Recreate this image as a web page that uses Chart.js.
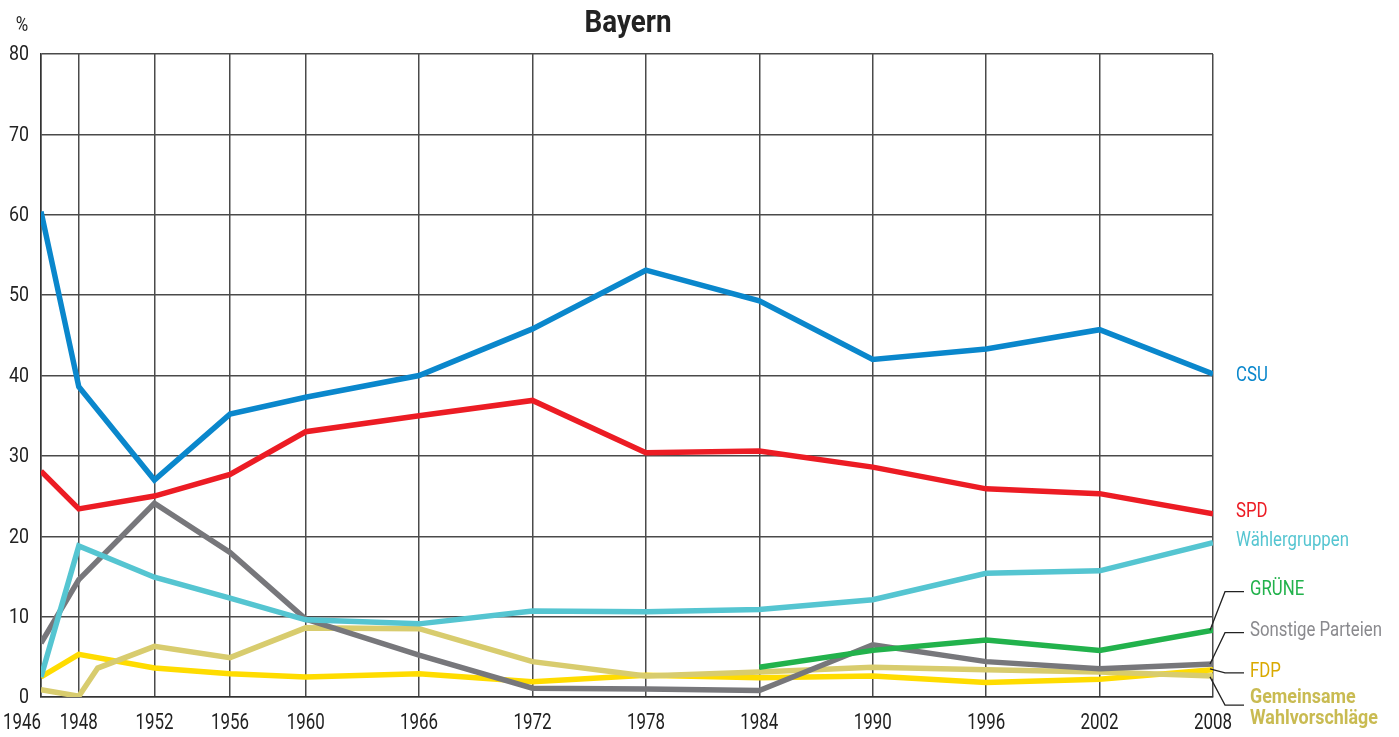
<!DOCTYPE html>
<html>
<head>
<meta charset="utf-8">
<script src="https://cdn.jsdelivr.net/npm/chart.js@4.4.1/dist/chart.umd.min.js"></script>
<style>
html,body{margin:0;padding:0;background:#fff;overflow:hidden}
canvas{display:block}
</style>
</head>
<body>
<canvas id="c" width="1399" height="737"></canvas>
<script>
// ---- data ----
const chartTitle = "Bayern";
const unitLabel = "%";
const years = [1946, 1948, 1952, 1956, 1960, 1966, 1972, 1978, 1984, 1990, 1996, 2002, 2008];
const yTicks = [0, 10, 20, 30, 40, 50, 60, 70, 80];
const csu = [60.4, 38.6, 27.0, 35.2, 37.3, 40.0, 45.8, 53.1, 49.3, 42.0, 43.3, 45.7, 40.2];
const spd = [28.1, 23.4, 25.0, 27.7, 33.0, 35.0, 36.9, 30.4, 30.6, 28.6, 25.9, 25.3, 22.8];
const waehlergruppen = [2.5, 18.8, 14.9, 12.3, 9.6, 9.1, 10.7, 10.6, 10.9, 12.1, 15.4, 15.7, 19.2];
const gruene = [null, null, null, null, null, null, null, null, 3.7, 5.8, 7.1, 5.8, 8.3];
const sonstige = [6.7, 14.6, 24.1, 18.0, 9.7, 5.2, 1.1, 1.0, 0.8, 6.5, 4.4, 3.5, 4.1];
const fdp = [2.5, 5.3, 3.6, 2.9, 2.5, 2.9, 1.9, 2.7, 2.4, 2.6, 1.8, 2.2, 3.4];
const gwvYears = [1946, 1948, 1949, 1952, 1956, 1960, 1966, 1972, 1978, 1984, 1990, 1996, 2002, 2008];
const gwv = [0.9, 0.1, 3.6, 6.3, 4.9, 8.6, 8.5, 4.4, 2.6, 3.1, 3.7, 3.4, 3.1, 2.6];

const seriesNames = ["CSU", "SPD", "Wählergruppen", "GRÜNE", "Sonstige Parteien", "FDP", "Gemeinsame Wahlvorschläge"];

const COLORS = {
  csu: '#0a87cc', spd: '#ec1c24', wg: '#55c5d1', gr: '#22b24c',
  so: '#77777b', fdp: '#ffdc00', gwv: '#d8cc6e'
};
const FONT = "Roboto, 'Liberation Sans', sans-serif";

const pts = (xs, ys) => xs.map((x, i) => ({x: x, y: ys[i]})).filter(p => p.y !== null);

function ds(label, data, color) {
  return {
    label: label, data: data, borderColor: color, backgroundColor: color,
    borderWidth: 5.5, pointRadius: 0, pointHoverRadius: 0, tension: 0,
    borderCapStyle: 'butt', borderJoinStyle: 'miter', fill: false, spanGaps: false
  };
}

// end labels (label positions in data units)
const endLabels = [
  {text: ["CSU"], color: COLORS.csu, at: 40.0, dx: 23},
  {text: ["SPD"], color: COLORS.spd, at: 23.0, dx: 23},
  {text: ["Wählergruppen"], color: COLORS.wg, at: 19.4, dx: 23},
  {text: ["GRÜNE"], color: COLORS.gr, at: 13.3, dx: 37, leader: 13.1, from: 8.3},
  {text: ["Sonstige Parteien"], color: '#8a8a8e', at: 8.2, dx: 37, leader: 8.0, from: 4.1},
  {text: ["FDP"], color: '#d9a900', at: 3.2, dx: 37, leader: 3.0, from: 3.5},
  {text: ["Gemeinsame", "Wahlvorschläge"], color: '#c9bb52', bold: true, at: -0.1, lineGap: 2.65, dx: 37, leader: -1.0, from: 2.5}
];

function fitScale(ctx, font, sample, target) {
  ctx.font = font;
  return target / ctx.measureText(sample).width;
}
function drawText(ctx, text, x, y, font, sx, align) {
  ctx.save();
  ctx.font = font;
  ctx.textAlign = align || 'left';
  ctx.textBaseline = 'middle';
  ctx.translate(x, y);
  ctx.scale(sx, 1);
  ctx.fillText(text, 0, 0);
  ctx.restore();
}

const overlay = {
  id: 'overlay',
  afterDraw(chart) {
    const ctx = chart.ctx, xs = chart.scales.x, ys = chart.scales.y;
    ctx.save();
    // title
    ctx.fillStyle = '#222';
    const tFont = "bold 32px " + FONT;
    drawText(ctx, chartTitle, 628, 24, tFont, fitScale(ctx, tFont, chartTitle, 87), 'center');
    // unit
    const uFont = "20px " + FONT;
    drawText(ctx, unitLabel, 22, 26, uFont, 0.85, 'center');
    // y tick labels
    const yFont = "21px " + FONT;
    const ySx = fitScale(ctx, yFont, "80", 20);
    yTicks.forEach(v => drawText(ctx, String(v), 29, ys.getPixelForValue(v) + 1, yFont, ySx, 'right'));
    // x tick labels
    const xFont = "22px " + FONT;
    const xSx = fitScale(ctx, xFont, "1948", 38);
    years.forEach((yr, i) => {
      let px = xs.getPixelForValue(yr);
      if (i === 0) px -= 19;
      drawText(ctx, String(yr), px, 723, xFont, xSx, 'center');
    });
    // end labels + leaders
    const xEnd = xs.getPixelForValue(years[years.length - 1]);
    const lFont = "21px " + FONT, lbFont = "bold 21px " + FONT;
    const lSx = fitScale(ctx, lFont, "Sonstige Parteien", 132);
    const lbSx = fitScale(ctx, lbFont, "Wahlvorschläge", 128);
    endLabels.forEach(l => {
      ctx.fillStyle = l.color;
      l.text.forEach((t, k) => {
        const v = l.at - k * (l.lineGap || 0);
        drawText(ctx, t, xEnd + l.dx, ys.getPixelForValue(v), l.bold ? lbFont : lFont, l.bold ? lbSx : lSx, 'left');
      });
      if (l.leader !== undefined) {
        const y0 = ys.getPixelForValue(l.from);
        const y1 = ys.getPixelForValue(l.leader);
        ctx.strokeStyle = '#222'; ctx.lineWidth = 1.3;
        ctx.beginPath();
        ctx.moveTo(xEnd - 3, y0);
        ctx.lineTo(xEnd + 12, y1);
        ctx.lineTo(xEnd + 31, y1);
        ctx.stroke();
      }
    });
    ctx.restore();
  }
};

new Chart(document.getElementById('c'), {
  type: 'line',
  data: {
    datasets: [
      ds(seriesNames[0], pts(years, csu), COLORS.csu),
      ds(seriesNames[1], pts(years, spd), COLORS.spd),
      ds(seriesNames[3], pts(years, gruene), COLORS.gr),
      ds(seriesNames[2], pts(years, waehlergruppen), COLORS.wg),
      ds(seriesNames[4], pts(years, sonstige), COLORS.so),
      ds(seriesNames[6], pts(gwvYears, gwv), COLORS.gwv),
      ds(seriesNames[5], pts(years, fdp), COLORS.fdp)
    ]
  },
  options: {
    responsive: false, animation: false,
    layout: {padding: {top: 54, right: 186, left: 0, bottom: 0}},
    plugins: {legend: {display: false}, tooltip: {enabled: false}, title: {display: false}},
    scales: {
      x: {
        type: 'linear', min: 1946, max: 2008,
        afterBuildTicks: s => { s.ticks = years.map(v => ({value: v})); },
        afterFit: s => { s.height = 40; },
        grid: {color: '#4a4a4a', lineWidth: 1.5, drawTicks: false},
        border: {color: '#333', width: 1.5},
        ticks: {display: false}
      },
      y: {
        min: 0, max: 80,
        afterBuildTicks: s => { s.ticks = yTicks.map(v => ({value: v})); },
        afterFit: s => { s.width = 41; },
        grid: {color: '#4a4a4a', lineWidth: 1.5, drawTicks: false},
        border: {color: '#333', width: 1.5},
        ticks: {display: false}
      }
    }
  },
  plugins: [overlay]
});
</script>
</body>
</html>
